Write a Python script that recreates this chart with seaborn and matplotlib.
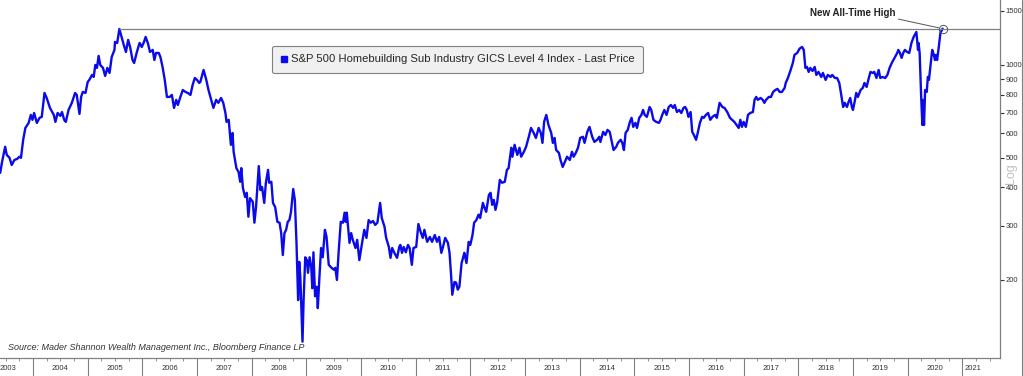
import numpy as np
import pandas as pd
import matplotlib
matplotlib.use('Agg')
import matplotlib.pyplot as plt
from matplotlib.lines import Line2D
from matplotlib.ticker import MultipleLocator, NullLocator
import matplotlib.transforms as mtrans
import seaborn as sns

# weekly-ish closes (decimal year, index level)
dates = [
    2003.40, 2003.43, 2003.49, 2003.52, 2003.57, 2003.61, 2003.66, 2003.71, 2003.75, 2003.78,
    2003.82, 2003.86, 2003.92, 2003.96, 2003.99,
    2004.02, 2004.07, 2004.12, 2004.16, 2004.21, 2004.25, 2004.31, 2004.38, 2004.41, 2004.45,
    2004.50, 2004.53, 2004.57, 2004.60, 2004.65, 2004.71, 2004.77, 2004.80, 2004.85, 2004.88,
    2004.91, 2004.96,
    2005.00, 2005.03, 2005.08, 2005.11, 2005.14, 2005.17, 2005.20, 2005.23, 2005.28, 2005.32,
    2005.36, 2005.40, 2005.44, 2005.49, 2005.50, 2005.54, 2005.58, 2005.61, 2005.66, 2005.70,
    2005.74, 2005.78, 2005.82, 2005.85, 2005.90, 2005.95, 2005.99,
    2006.03, 2006.06, 2006.10, 2006.14, 2006.19, 2006.22, 2006.25, 2006.30, 2006.33, 2006.37,
    2006.41, 2006.45, 2006.50, 2006.54, 2006.58, 2006.62, 2006.65, 2006.69, 2006.74, 2006.79,
    2006.83, 2006.88, 2006.92, 2006.96,
    2007.00, 2007.04, 2007.06, 2007.12, 2007.17, 2007.21, 2007.26, 2007.30, 2007.35, 2007.39,
    2007.44, 2007.48, 2007.52, 2007.54, 2007.58, 2007.62, 2007.65, 2007.67, 2007.72, 2007.76,
    2007.79, 2007.81, 2007.84, 2007.88, 2007.91, 2007.94, 2007.97,
    2008.02, 2008.05, 2008.08, 2008.13, 2008.16, 2008.19, 2008.23, 2008.26, 2008.30, 2008.32,
    2008.36, 2008.39, 2008.43, 2008.47, 2008.51, 2008.54, 2008.57, 2008.60, 2008.63, 2008.66,
    2008.69, 2008.72, 2008.76, 2008.79, 2008.82, 2008.85, 2008.87, 2008.89, 2008.93, 2008.95,
    2008.98,
    2009.01, 2009.03, 2009.06, 2009.09, 2009.11, 2009.13, 2009.16, 2009.19, 2009.21, 2009.24,
    2009.27, 2009.30, 2009.34, 2009.37, 2009.41, 2009.45, 2009.50, 2009.53, 2009.56, 2009.59,
    2009.63, 2009.67, 2009.70, 2009.72, 2009.74, 2009.79, 2009.82, 2009.85, 2009.90, 2009.93,
    2009.97,
    2010.02, 2010.06, 2010.10, 2010.14, 2010.18, 2010.22, 2010.26, 2010.30, 2010.35, 2010.38,
    2010.43, 2010.46, 2010.51, 2010.54, 2010.57, 2010.61, 2010.66, 2010.70, 2010.72, 2010.75,
    2010.78, 2010.82, 2010.86, 2010.89, 2010.93, 2010.96,
    2011.01, 2011.05, 2011.09, 2011.13, 2011.16, 2011.21, 2011.26, 2011.30, 2011.35, 2011.39,
    2011.43, 2011.47, 2011.50, 2011.54, 2011.59, 2011.62, 2011.65, 2011.67, 2011.71, 2011.74,
    2011.77, 2011.80, 2011.84, 2011.87, 2011.89, 2011.93, 2011.97,
    2012.00, 2012.04, 2012.07, 2012.11, 2012.15, 2012.18, 2012.23, 2012.26, 2012.29, 2012.34,
    2012.37, 2012.40, 2012.43, 2012.46, 2012.49, 2012.54, 2012.58, 2012.63, 2012.67, 2012.70,
    2012.75, 2012.77, 2012.81, 2012.86, 2012.90, 2012.93, 2012.98,
    2013.02, 2013.07, 2013.11, 2013.16, 2013.20, 2013.25, 2013.29, 2013.32, 2013.35, 2013.39,
    2013.43, 2013.48, 2013.51, 2013.54, 2013.57, 2013.62, 2013.65, 2013.69, 2013.73, 2013.77,
    2013.82, 2013.86, 2013.89, 2013.93, 2013.97,
    2014.01, 2014.06, 2014.09, 2014.14, 2014.18, 2014.23, 2014.27, 2014.32, 2014.36, 2014.38,
    2014.43, 2014.47, 2014.51, 2014.55, 2014.58, 2014.62, 2014.67, 2014.70, 2014.75, 2014.78,
    2014.81, 2014.84, 2014.88, 2014.92, 2014.95, 2014.98,
    2015.02, 2015.05, 2015.09, 2015.13, 2015.16, 2015.19, 2015.23, 2015.28, 2015.31, 2015.35,
    2015.40, 2015.45, 2015.48, 2015.51, 2015.55, 2015.59, 2015.63, 2015.67, 2015.71, 2015.74,
    2015.78, 2015.82, 2015.86, 2015.90, 2015.93, 2015.96, 2015.99,
    2016.03, 2016.06, 2016.09, 2016.13, 2016.16, 2016.20, 2016.24, 2016.27, 2016.31, 2016.35,
    2016.39, 2016.43, 2016.48, 2016.51, 2016.56, 2016.61, 2016.65, 2016.70, 2016.75, 2016.79,
    2016.83, 2016.87, 2016.91, 2016.94, 2016.97,
    2017.00, 2017.04, 2017.08, 2017.12, 2017.17, 2017.20, 2017.23, 2017.26, 2017.31, 2017.35,
    2017.38, 2017.41, 2017.46, 2017.50, 2017.54, 2017.58, 2017.62, 2017.66, 2017.70, 2017.75,
    2017.77, 2017.81, 2017.86, 2017.90, 2017.93, 2017.98,
    2018.02, 2018.04, 2018.07, 2018.10, 2018.13, 2018.16, 2018.19, 2018.22, 2018.26, 2018.30,
    2018.33, 2018.37, 2018.42, 2018.45, 2018.50, 2018.54, 2018.59, 2018.62, 2018.67, 2018.71,
    2018.75, 2018.78, 2018.82, 2018.85, 2018.89, 2018.92, 2018.95, 2018.98,
    2019.00, 2019.03, 2019.06, 2019.09, 2019.14, 2019.18, 2019.21, 2019.25, 2019.29, 2019.32,
    2019.36, 2019.39, 2019.43, 2019.47, 2019.50, 2019.54, 2019.59, 2019.63, 2019.67, 2019.71,
    2019.76, 2019.81, 2019.83, 2019.86, 2019.89, 2019.92, 2019.95, 2019.99,
    2020.03, 2020.07, 2020.11, 2020.16, 2020.19, 2020.20, 2020.22, 2020.25, 2020.27, 2020.28,
    2020.30, 2020.32, 2020.35, 2020.37, 2020.39, 2020.42, 2020.45, 2020.48, 2020.50, 2020.52,
    2020.54, 2020.57, 2020.60, 2020.64,
]

price = [
    446, 480, 542, 510, 499, 473, 491, 495, 503, 499,
    571, 624, 648, 688, 663,
    698, 648, 673, 678, 811, 781, 725, 688, 653, 698,
    683, 703, 663, 653, 714, 753, 811, 799, 693, 787,
    817, 811,
    880, 894, 928, 914, 1000, 978, 1070, 1000, 978, 921,
    978, 942, 1062, 1119, 1188, 1179, 1309, 1252, 1162, 1102,
    1206, 1136, 1038, 1015, 1102, 1179, 1144,
    1188, 1233, 1179, 1102, 1119, 1038, 1094, 1094, 1062, 985,
    894, 787, 787, 799, 725, 770, 741, 781, 829, 817,
    811, 799, 861, 907,
    894, 874, 880, 963, 894, 829, 770, 725, 770, 753,
    781, 753, 698, 653, 663, 550, 601, 522, 462, 449,
    417, 462, 398, 372, 384, 321, 369,
    359, 307, 345, 469, 392, 401, 356, 414, 456, 414,
    417, 356, 345, 309, 307, 284, 241, 284, 291, 309,
    313, 333, 395, 364, 264, 172, 229, 205, 126, 172,
    237,
    232, 211, 237, 220, 188, 246, 177, 190, 162, 205,
    254, 237, 291, 276, 224, 220, 216, 219, 200, 245,
    309, 307, 331, 309, 331, 264, 284, 270, 254, 270,
    232,
    264, 291, 274, 313, 307, 311, 302, 307, 356, 318,
    298, 274, 256, 236, 254, 245, 236, 256, 260, 245,
    256, 246, 260, 254, 224, 254,
    256, 304, 287, 274, 291, 266, 276, 266, 280, 266,
    276, 245, 256, 274, 264, 245, 205, 179, 197, 196,
    186, 190, 227, 237, 245, 227, 266,
    260, 280, 307, 313, 326, 318, 356, 343, 333, 378,
    384, 351, 364, 338, 356, 423, 414, 417, 456, 462,
    538, 503, 550, 510, 538, 503, 522,
    542, 584, 624, 601, 579, 624, 601, 558, 653, 688,
    638, 601, 558, 579, 529, 518, 491, 466, 484, 503,
    491, 522, 503, 518, 538,
    579, 584, 558, 606, 629, 584, 562, 571, 584, 562,
    606, 592, 615, 606, 571, 529, 542, 558, 571, 558,
    529, 601, 615, 653, 673, 629,
    648, 624, 673, 688, 714, 688, 678, 730, 714, 663,
    653, 648, 663, 688, 714, 688, 730, 741, 725, 741,
    703, 714, 698, 725, 730, 714, 678,
    703, 606, 592, 571, 601, 648, 678, 673, 688, 698,
    663, 678, 688, 673, 753, 730, 725, 703, 673, 663,
    653, 638, 624, 663, 629,
    653, 629, 688, 698, 703, 770, 787, 770, 781, 770,
    753, 770, 787, 787, 817, 829, 836, 817, 817, 842,
    874, 907, 963, 1015, 1078, 1094,
    1127, 1136, 1144, 1119, 978, 985, 949, 978, 956, 985,
    928, 949, 914, 942, 894, 928, 914, 928, 907, 907,
    874, 811, 730, 753, 730, 758, 781, 730,
    714, 758, 811, 787, 829, 842, 874, 848, 907, 949,
    942, 949, 907, 963, 907, 914, 907, 928, 978, 1015,
    1054, 1094, 1119, 1094, 1054, 1094, 1119, 1102,
    1094, 1179, 1233, 1280, 1119, 1179, 1094, 770, 638, 770,
    638, 829, 817, 914, 894, 1000, 1119, 1078, 1038, 1078,
    1038, 1144, 1271, 1312,
]

years = list(range(2003, 2022))
y_ticks = [200, 300, 400, 500, 600, 700, 800, 900, 1000, 1500]
series_name = 'S&P 500 Homebuilding Sub Industry GICS Level 4 Index - Last Price'
source_note = 'Source: Mader Shannon Wealth Management Inc., Bloomberg Finance LP'
ath_label = 'New All-Time High'

df = pd.DataFrame({'date': dates, 'price': price})

sns.set_style('white')
plt.rcParams['font.family'] = ['Liberation Sans', 'DejaVu Sans']

blue = '#0b0bea'
grey = '#808080'
xmin, xmax = 2003.396, 2021.69

fig = plt.figure(figsize=(10.23, 3.76), dpi=100)
ax = fig.add_axes([0, 18 / 376, 1000 / 1023, 358 / 376])

sns.lineplot(data=df, x='date', y='price', ax=ax, color=blue, lw=1.7)
ax.set_yscale('log')
ax.set_xlim(xmin, xmax)
ax.set_ylim(111.5, 1626)
ax.set_xlabel('')
ax.set_ylabel('')

# previous all-time high carried across
pre = df[df['date'] < 2010]
peak = pre.loc[pre['price'].idxmax()]
ax.hlines(peak['price'], peak['date'], xmax, color=grey, lw=0.9)

# spines
for s in ['left', 'top']:
    ax.spines[s].set_visible(False)
for s in ['right', 'bottom']:
    ax.spines[s].set_color(grey)
    ax.spines[s].set_linewidth(0.9)

# y axis on the right
ax.yaxis.tick_right()
ax.yaxis.set_minor_locator(NullLocator())
ax.set_yticks(y_ticks)
ax.set_yticklabels([str(v) for v in y_ticks])
ax.tick_params(axis='y', which='major', right=True, left=False, direction='out',
               length=3, width=0.8, color='#333333', labelsize=5.5, pad=1,
               labelcolor='#333333')

# x axis: year separators and quarter ticks
ax.set_xticks(years[1:])
ax.xaxis.set_minor_locator(MultipleLocator(0.25))
ax.tick_params(axis='x', which='major', bottom=True, length=13, width=0.8,
               color=grey, labelbottom=False)
ax.tick_params(axis='x', which='minor', bottom=True, length=2, width=0.6, color=grey)
trans = mtrans.blended_transform_factory(ax.transData, ax.transAxes)
for yr in years:
    cx = float(np.clip(yr + 0.5, xmin + 0.15, xmax - 0.5))
    ax.text(cx, -10 / 358, str(yr), transform=trans, ha='center', va='center',
            fontsize=5.5, color='#333333')

# legend box
handle = Line2D([], [], marker='s', color=blue, linestyle='None', markersize=5)
leg = ax.legend([handle], [series_name], loc='upper left',
                bbox_to_anchor=(272 / 1000, 1 - 46 / 358), borderaxespad=0,
                fancybox=True, facecolor='#f0f0f0', edgecolor=grey, framealpha=1,
                fontsize=8.1, handlelength=0.6, handletextpad=0.3, borderpad=0.75)
leg.get_frame().set_linewidth(0.8)

# annotation of the new high
ax.plot(dates[-1], price[-1], marker='o', mfc='none', mec='#555555', ms=6, mew=0.7)
ax.annotate(ath_label, xy=(dates[-1], price[-1]), xytext=(-65, 11),
            textcoords='offset points', ha='center', va='center', fontsize=7,
            fontweight='bold', color='#222222',
            arrowprops=dict(arrowstyle='-', color='#555555', lw=0.7,
                            shrinkA=0, shrinkB=3, relpos=(1, 0)))

ax.text(8 / 1000, 10 / 358, source_note, transform=ax.transAxes, style='italic',
        fontsize=6.5, color='#333333', va='center', ha='left')

fig.text(1011 / 1023, 1 - 174 / 376, 'Log', rotation=90, color='#c0c0c0',
         fontsize=9, ha='center', va='center')
fig.add_artist(Line2D([1021.5 / 1023] * 2, [0, 1], transform=fig.transFigure,
                      color=grey, lw=0.8))

fig.savefig('out.png', dpi=100)
